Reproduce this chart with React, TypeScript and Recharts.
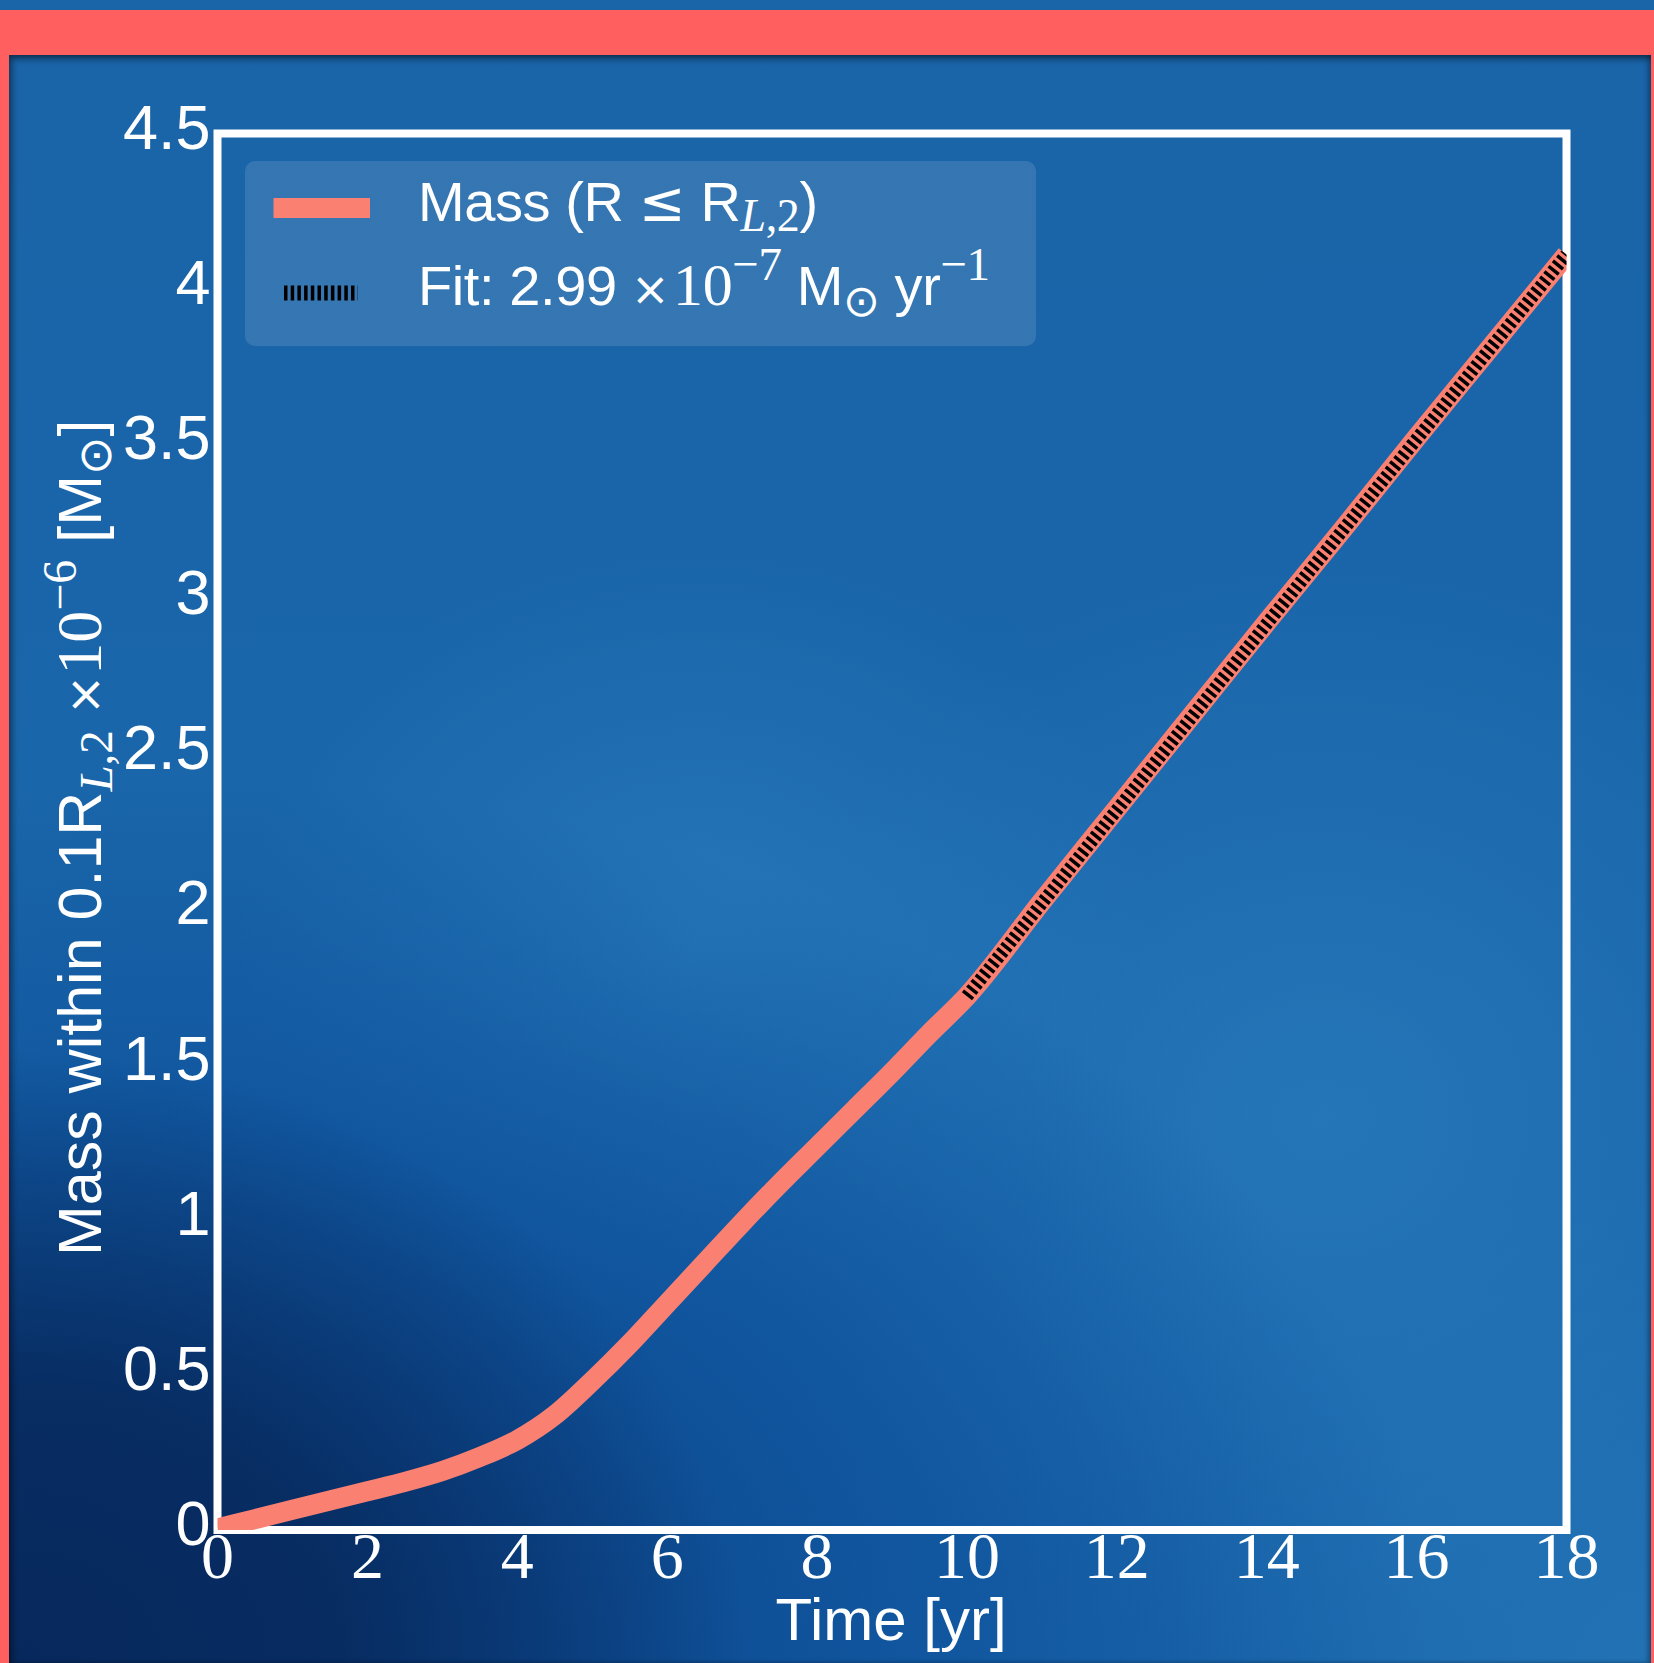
import { LineChart, Line, XAxis, YAxis, ReferenceArea, Legend } from "recharts";

// mass inside 0.1 R_L2, units of 1e-6 Msun
const TIME = [0, 0.5, 1, 1.5, 2, 2.5, 3, 3.5, 4, 4.5, 5, 5.5, 6, 6.5, 7, 7.5, 8, 8.5, 9, 9.5, 10, 11, 12, 13, 14, 15, 16, 17, 18];
const MASS = [0.005, 0.035, 0.065, 0.095, 0.125, 0.155, 0.19, 0.235, 0.29, 0.37, 0.48, 0.6, 0.73, 0.86, 0.99, 1.115, 1.235, 1.355, 1.475, 1.6, 1.72, 2.025, 2.325, 2.625, 2.925, 3.22, 3.52, 3.815, 4.11];

// linear fit over the last 8 yr
const FIT_TIME = [10, 12, 14, 16, 18];
const FIT_MASS = [1.72, 2.32, 2.92, 3.515, 4.11];

const X_TICKS = [0, 2, 4, 6, 8, 10, 12, 14, 16, 18];
const Y_TICKS = [0, 0.5, 1, 1.5, 2, 2.5, 3, 3.5, 4, 4.5];

const SALMON = "#fa8072";
const SANS = "'Liberation Sans', Arial, Helvetica, sans-serif";
const SERIF = "'Liberation Serif', 'Times New Roman', serif";
const SYM = "'DejaVu Sans', sans-serif";

const massData = TIME.map((t, i) => ({ t, m: MASS[i] }));
const fitData = FIT_TIME.map((t, i) => ({ t, m: FIT_MASS[i] }));

function YTick({ x, y, payload }: any) {
  return (
    <text x={x} y={y} dx={-7} dy={15} textAnchor="end" fill="#fff" fontFamily={SANS} fontSize={63}>
      {String(payload.value)}
    </text>
  );
}

function XTick({ x, y, payload }: any) {
  return (
    <text x={x} y={y} dy={48} textAnchor="middle" fill="#fff" fontFamily={SERIF} fontSize={66}>
      {String(payload.value)}
    </text>
  );
}

function YLabel({ viewBox }: any) {
  const x = viewBox.x + 33;
  const y = viewBox.y + viewBox.height / 2 + 6;
  return (
    <text
      x={x}
      y={y}
      transform={`rotate(-90, ${x}, ${y})`}
      textAnchor="middle"
      fill="#fff"
      fontFamily={SANS}
      fontSize={61}
    >
      Mass within 0.1R
      <tspan fontFamily={SERIF} fontStyle="italic" fontSize={47} dy={11}>L</tspan>
      <tspan fontFamily={SERIF} fontSize={47}>,2</tspan>
      <tspan fontFamily={SYM} fontSize={48} dy={-11}> ×</tspan>
      <tspan fontFamily={SERIF} fontSize={64}>10</tspan>
      <tspan fontFamily={SERIF} fontSize={48} dy={-25}>−6</tspan>
      <tspan dy={25}> [M</tspan>
      <tspan fontFamily={SYM} fontSize={46} dy={10}>⊙</tspan>
      <tspan dy={-10}>]</tspan>
    </text>
  );
}

function XLabel({ viewBox }: any) {
  return (
    <text
      x={viewBox.x + viewBox.width / 2 - 1}
      y={viewBox.y + 110}
      textAnchor="middle"
      fill="#fff"
      fontFamily={SANS}
      fontSize={60}
    >
      Time [yr]
    </text>
  );
}

function LegendBox() {
  return (
    <svg width={791} height={185} style={{ display: "block" }}>
      <rect x={0} y={0} width={791} height={185} rx={10} fill="#ffffff" fillOpacity={0.12} />
      <line x1={28.5} x2={125} y1={47} y2={47} stroke={SALMON} strokeWidth={20} />
      <line x1={39} x2={113} y1={132} y2={132} stroke="#000" strokeWidth={15} strokeDasharray="3.5 3.2" />
      <text x={173} y={59.5} fill="#fff" fontFamily={SANS} fontSize={56} letterSpacing={-0.4}>
        Mass (R <tspan fontFamily={SYM} fontSize={56}>≤</tspan> R
        <tspan fontFamily={SERIF} fontStyle="italic" fontSize={46} dy={10}>L</tspan>
        <tspan fontFamily={SERIF} fontSize={46}>,2</tspan>
        <tspan dy={-10}>)</tspan>
      </text>
      <text x={173} y={144} fill="#fff" fontFamily={SANS} fontSize={56} letterSpacing={-0.4}>
        Fit: 2.99
        <tspan fontFamily={SYM} fontSize={46}> ×</tspan>
        <tspan fontFamily={SERIF} fontSize={60} dx={4}>10</tspan>
        <tspan fontFamily={SERIF} fontSize={47} dy={-25}>−7</tspan>
        <tspan dy={25}> M</tspan>
        <tspan fontFamily={SYM} fontSize={44} dy={11}>⊙</tspan>
        <tspan dy={-11}> yr</tspan>
        <tspan fontFamily={SERIF} fontSize={47} dy={-25}>−1</tspan>
      </text>
    </svg>
  );
}

export default function App() {
  return (
    <div style={{ position: "absolute", left: 0, top: 0, width: 1654, height: 1663, background: "#1a64a8", overflow: "hidden" }}>
      <div style={{ position: "absolute", left: 0, top: 10, width: 1654, height: 45, background: "#ff5f5f" }} />
      <div style={{ position: "absolute", left: 0, top: 10, width: 9, height: 1653, background: "#ff5f5f" }} />
      <div style={{ position: "absolute", left: 1651, top: 10, width: 3, height: 1653, background: "#ff5f5f" }} />
      <div
        style={{
          position: "absolute",
          left: 9,
          top: 55,
          width: 1642,
          height: 1608,
          boxShadow: "inset 3px 4px 6px rgba(0,0,0,0.45), inset -3px 0 5px rgba(0,0,0,0.3)",
          background: [
            "radial-gradient(ellipse 45% 38% at 0% 100%, rgba(7,40,92,1) 0%, rgba(7,42,94,0.9) 45%, rgba(7,42,94,0) 100%)",
            "radial-gradient(ellipse 75% 55% at 12% 100%, rgba(8,60,128,0.95) 0%, rgba(8,72,148,0.55) 60%, rgba(8,72,148,0) 100%)",
            "radial-gradient(ellipse 28% 24% at 42% 55%, rgba(40,122,188,0.8), rgba(40,122,188,0) 100%)",
            "radial-gradient(ellipse 36% 34% at 80% 66%, rgba(38,120,186,0.85), rgba(38,120,186,0) 100%)",
            "radial-gradient(ellipse 30% 30% at 100% 100%, rgba(36,116,182,0.8), rgba(36,116,182,0) 100%)",
            "linear-gradient(180deg, #1a64a8 0%, #1a66aa 50%, #1c69ae 100%)",
          ].join(", "),
        }}
      />
      <div style={{ position: "absolute", left: 0, top: 0 }}>
        <LineChart width={1654} height={1663} margin={{ top: 133.5, right: 87.5, bottom: 33, left: 67.5 }}>
          <XAxis
            dataKey="t"
            type="number"
            domain={[0, 18]}
            ticks={X_TICKS}
            allowDataOverflow
            height={100}
            axisLine={false}
            tickLine={false}
            tickSize={0}
            tickMargin={0}
            tick={<XTick />}
            interval={0}
            label={{ content: (p: any) => <XLabel {...p} /> }}
          />
          <YAxis
            type="number"
            domain={[0, 4.5]}
            ticks={Y_TICKS}
            allowDataOverflow
            width={150}
            axisLine={false}
            tickLine={false}
            tickSize={0}
            tickMargin={0}
            tick={<YTick />}
            interval={0}
            label={{ content: (p: any) => <YLabel {...p} /> }}
          />
          <Line
            data={massData}
            dataKey="m"
            type="monotone"
            stroke={SALMON}
            strokeWidth={20}
            strokeLinejoin="round"
            dot={false}
            activeDot={false}
            isAnimationActive={false}
          />
          <Line
            data={fitData}
            dataKey="m"
            type="linear"
            stroke="#000"
            strokeWidth={13}
            strokeDasharray="3.5 3.3"
            dot={false}
            activeDot={false}
            isAnimationActive={false}
          />
          <ReferenceArea
            x1={0}
            x2={18}
            y1={0}
            y2={4.5}
            ifOverflow="visible"
            fill="none"
            fillOpacity={0}
            stroke="#ffffff"
            strokeWidth={8}
          />
          <Legend
            layout="vertical"
            align="center"
            verticalAlign="middle"
            wrapperStyle={{ left: 245, top: 161, width: 791, height: 185 }}
            content={() => <LegendBox />}
          />
        </LineChart>
      </div>
    </div>
  );
}
